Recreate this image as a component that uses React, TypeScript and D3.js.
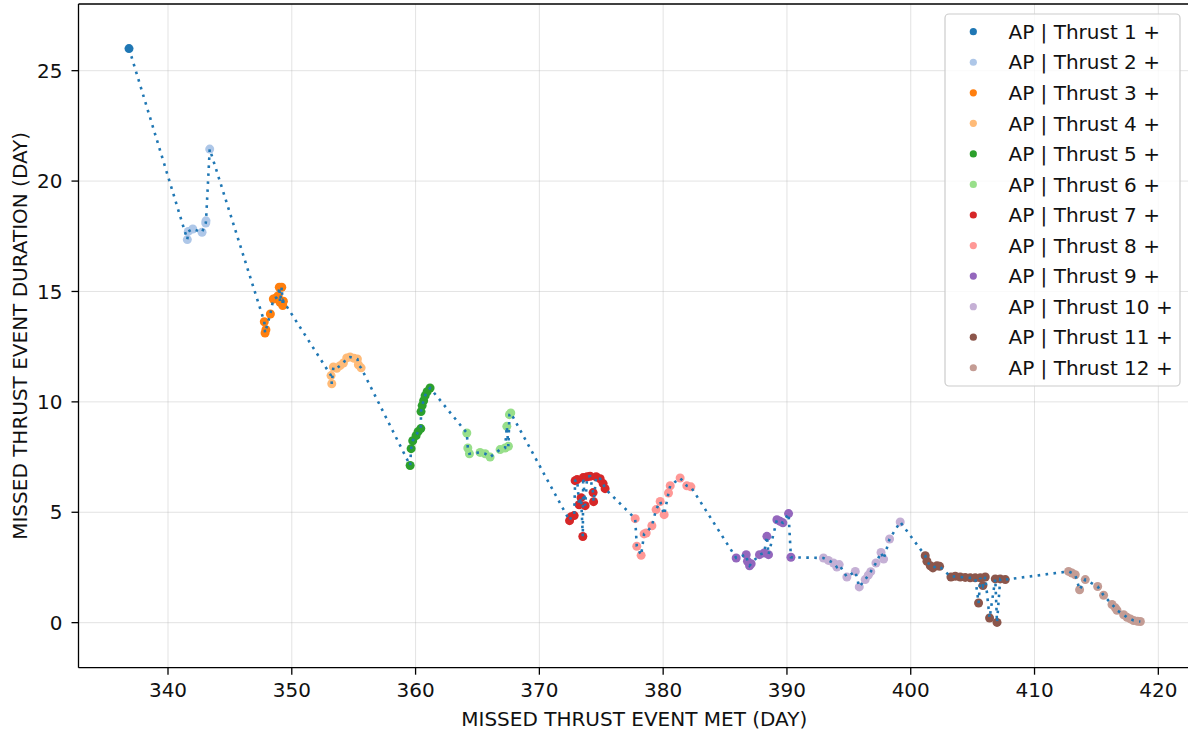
import React from "react";
import * as d3 from "d3";

// Missed thrust events: [MET (day), duration (day)] per thrust arc
const thrust1: [number, number][] = [[336.85, 26.0]];
const thrust2: [number, number][] = [
  [341.56, 17.35], [341.64, 17.72], [342.0, 17.83], [342.75, 17.68],
  [343.05, 18.1], [343.07, 18.2], [343.37, 21.45],
];
const thrust3: [number, number][] = [
  [347.78, 13.63], [347.84, 13.12], [347.91, 13.27], [348.27, 13.98],
  [348.51, 14.66], [348.78, 14.73], [348.91, 14.81], [348.99, 15.19],
  [349.05, 14.51], [349.19, 15.19], [349.27, 14.36], [349.32, 14.56],
];
const thrust4: [number, number][] = [
  [353.17, 11.19], [353.23, 10.82], [353.36, 11.58], [353.63, 11.52],
  [353.9, 11.64], [354.17, 11.76], [354.44, 11.99], [354.71, 12.03],
  [355.03, 11.97], [355.3, 11.94], [355.38, 11.68], [355.6, 11.54],
];
const thrust5: [number, number][] = [
  [359.56, 7.12], [359.64, 7.88], [359.77, 8.24], [360.04, 8.47],
  [360.2, 8.65], [360.42, 8.79], [360.44, 9.56], [360.53, 9.83],
  [360.65, 10.05], [360.77, 10.28], [360.93, 10.46], [361.17, 10.63],
];
const thrust6: [number, number][] = [
  [364.14, 8.59], [364.22, 7.91], [364.35, 7.65], [365.21, 7.71],
  [365.62, 7.65], [366.02, 7.5], [366.83, 7.84], [367.23, 7.91],
  [367.37, 8.89], [367.5, 7.99], [367.58, 9.42], [367.69, 9.5],
];
const thrust7: [number, number][] = [
  [372.44, 4.62], [372.57, 4.8], [372.81, 4.85], [372.89, 6.43],
  [373.05, 6.48], [373.21, 5.34], [373.37, 5.66], [373.51, 3.9],
  [373.54, 6.57], [373.7, 5.3], [373.86, 6.61], [374.1, 6.63],
  [374.34, 5.89], [374.38, 5.48], [374.59, 6.61], [374.91, 6.52],
  [375.15, 6.3], [375.31, 6.07],
];
const thrust8: [number, number][] = [
  [377.74, 4.71], [377.87, 3.46], [378.22, 3.05], [378.46, 4.02],
  [378.63, 4.06], [379.09, 4.39], [379.43, 5.12], [379.76, 5.49],
  [380.08, 4.89], [380.43, 5.87], [380.57, 6.2], [381.37, 6.55],
  [381.91, 6.2], [382.24, 6.15],
];
const thrust9: [number, number][] = [
  [385.9, 2.93], [386.71, 3.08], [386.81, 2.78], [386.98, 2.58],
  [387.11, 2.67], [387.78, 3.08], [388.16, 3.16], [388.38, 3.91],
  [388.51, 3.08], [389.19, 4.66], [389.45, 4.59], [389.67, 4.52],
  [390.13, 4.94], [390.32, 2.96],
];
const thrust10: [number, number][] = [
  [392.95, 2.93], [393.35, 2.82], [393.76, 2.7], [394.03, 2.52],
  [394.22, 2.63], [394.84, 2.07], [395.52, 2.32], [395.84, 1.62],
  [396.32, 1.95], [396.57, 2.15], [396.77, 2.31], [397.19, 2.7],
  [397.6, 3.18], [397.81, 2.88], [398.29, 3.79], [399.15, 4.56],
];
const thrust11: [number, number][] = [
  [401.17, 3.03], [401.31, 2.78], [401.58, 2.58], [401.79, 2.48],
  [402.12, 2.58], [402.33, 2.55], [403.25, 2.07], [403.6, 2.1],
  [404.0, 2.07], [404.4, 2.05], [404.81, 2.03], [405.21, 2.03],
  [405.48, 0.89], [405.62, 2.03], [405.83, 1.68], [406.02, 2.07],
  [406.37, 0.21], [406.83, 1.98], [406.97, 0.01], [407.23, 1.98],
  [407.64, 1.95],
];
const thrust12: [number, number][] = [
  [412.75, 2.32], [413.02, 2.25], [413.29, 2.17], [413.64, 1.49],
  [414.1, 1.95], [415.1, 1.64], [415.58, 1.24], [416.26, 0.82],
  [416.53, 0.67], [416.66, 0.56], [417.2, 0.36], [417.47, 0.24],
  [417.74, 0.17], [418.0, 0.1], [418.32, 0.06], [418.55, 0.05],
];

const seriesLabels = [
  "AP | Thrust 1 +", "AP | Thrust 2 +", "AP | Thrust 3 +", "AP | Thrust 4 +",
  "AP | Thrust 5 +", "AP | Thrust 6 +", "AP | Thrust 7 +", "AP | Thrust 8 +",
  "AP | Thrust 9 +", "AP | Thrust 10 +", "AP | Thrust 11 +", "AP | Thrust 12 +",
];
const seriesColors = [
  "#1f77b4", "#aec7e8", "#ff7f0e", "#ffbb78", "#2ca02c", "#98df8a",
  "#d62728", "#ff9896", "#9467bd", "#c5b0d5", "#8c564b", "#c49c94",
];
const seriesData = [
  thrust1, thrust2, thrust3, thrust4, thrust5, thrust6,
  thrust7, thrust8, thrust9, thrust10, thrust11, thrust12,
];
const xTicks = [340, 350, 360, 370, 380, 390, 400, 410, 420];
const yTicks = [0, 5, 10, 15, 20, 25];
const xLabel = "MISSED THRUST EVENT MET (DAY)";
const yLabel = "MISSED THRUST EVENT DURATION (DAY)";

const W = 1188;
const H = 731;
const plot = { left: 78.5, right: 1191, top: 4, bottom: 667.7 };
const FONT = "'DejaVu Sans', sans-serif";
const TEXT = "#111";

export default function App() {
  const x = d3.scaleLinear().domain([332.77, 422.64]).range([plot.left, plot.right]);
  const y = d3.scaleLinear().domain([-2.04, 28.02]).range([plot.bottom, plot.top]);
  const color = d3.scaleOrdinal<number, string>().domain(d3.range(12)).range(seriesColors);

  const allPoints = seriesData.flat();
  const line = d3.line<[number, number]>().x((d) => x(d[0])).y((d) => y(d[1]));

  const legend = { x: 945, y: 14, w: 235, h: 372, rowY0: 31.7, rowStep: 30.55 };

  return (
    <svg
      width={W}
      height={H}
      style={{ position: "fixed", left: 0, top: 0, background: "#fff" }}
      fontFamily={FONT}
    >
      <defs>
        <clipPath id="plot-area">
          <rect x={plot.left} y={plot.top} width={plot.right - plot.left} height={plot.bottom - plot.top} />
        </clipPath>
      </defs>
      <rect width={W} height={H} fill="#fff" />

      {/* grid */}
      <g stroke="#b0b0b0" strokeOpacity={0.35} strokeWidth={1}>
        {xTicks.map((t) => (
          <line key={"gx" + t} x1={x(t)} x2={x(t)} y1={plot.top} y2={plot.bottom} />
        ))}
        {yTicks.map((t) => (
          <line key={"gy" + t} x1={plot.left} x2={plot.right} y1={y(t)} y2={y(t)} />
        ))}
      </g>

      {/* markers per thrust arc */}
      <g clipPath="url(#plot-area)">
        {seriesData.map((pts, i) =>
          pts.map((d, j) => (
            <circle key={i + "-" + j} cx={x(d[0])} cy={y(d[1])} r={4.5} fill={color(i)} />
          ))
        )}
        {/* dotted trace through every event in time order */}
        <path
          d={line(allPoints) ?? ""}
          fill="none"
          stroke="#1f77b4"
          strokeWidth={2.6}
          strokeDasharray="2.6 5.4"
        />
      </g>

      {/* spines */}
      <g stroke="#000" strokeWidth={1.3} fill="none">
        <line x1={plot.left} x2={plot.left} y1={plot.top} y2={plot.bottom} />
        <line x1={plot.left} x2={plot.right} y1={plot.bottom} y2={plot.bottom} />
        <line x1={plot.left} x2={plot.right} y1={plot.top} y2={plot.top} />
      </g>

      {/* x axis */}
      <g>
        {xTicks.map((t) => (
          <g key={"xt" + t} transform={`translate(${x(t)},0)`}>
            <line y1={plot.bottom} y2={plot.bottom + 7} stroke="#000" strokeWidth={1.3} />
            <text y={plot.bottom + 29} textAnchor="middle" fontSize={20} fill={TEXT}>
              {t}
            </text>
          </g>
        ))}
        <text x={(plot.left + 1188) / 2 + 1} y={726} textAnchor="middle" fontSize={20} fill={TEXT}>
          {xLabel}
        </text>
      </g>

      {/* y axis */}
      <g>
        {yTicks.map((t) => (
          <g key={"yt" + t} transform={`translate(0,${y(t)})`}>
            <line x1={plot.left - 7} x2={plot.left} stroke="#000" strokeWidth={1.3} />
            <text x={plot.left - 16} dy="0.36em" textAnchor="end" fontSize={20} fill={TEXT}>
              {t}
            </text>
          </g>
        ))}
        <text
          transform={`translate(27,${(plot.top + plot.bottom) / 2}) rotate(-90)`}
          textAnchor="middle"
          fontSize={20}
          fill={TEXT}
        >
          {yLabel}
        </text>
      </g>

      {/* legend */}
      <g>
        <rect
          x={legend.x}
          y={legend.y}
          width={legend.w}
          height={legend.h}
          rx={4}
          fill="#fff"
          fillOpacity={0.8}
          stroke="#cccccc"
          strokeWidth={1.2}
        />
        {seriesLabels.map((lab, i) => {
          const ry = legend.rowY0 + i * legend.rowStep;
          return (
            <g key={"lg" + i}>
              <circle cx={973.3} cy={ry} r={3.6} fill={color(i)} />
              <text x={1008.5} y={ry} dy="0.36em" fontSize={20} fill={TEXT}>
                {lab}
              </text>
            </g>
          );
        })}
      </g>
    </svg>
  );
}
